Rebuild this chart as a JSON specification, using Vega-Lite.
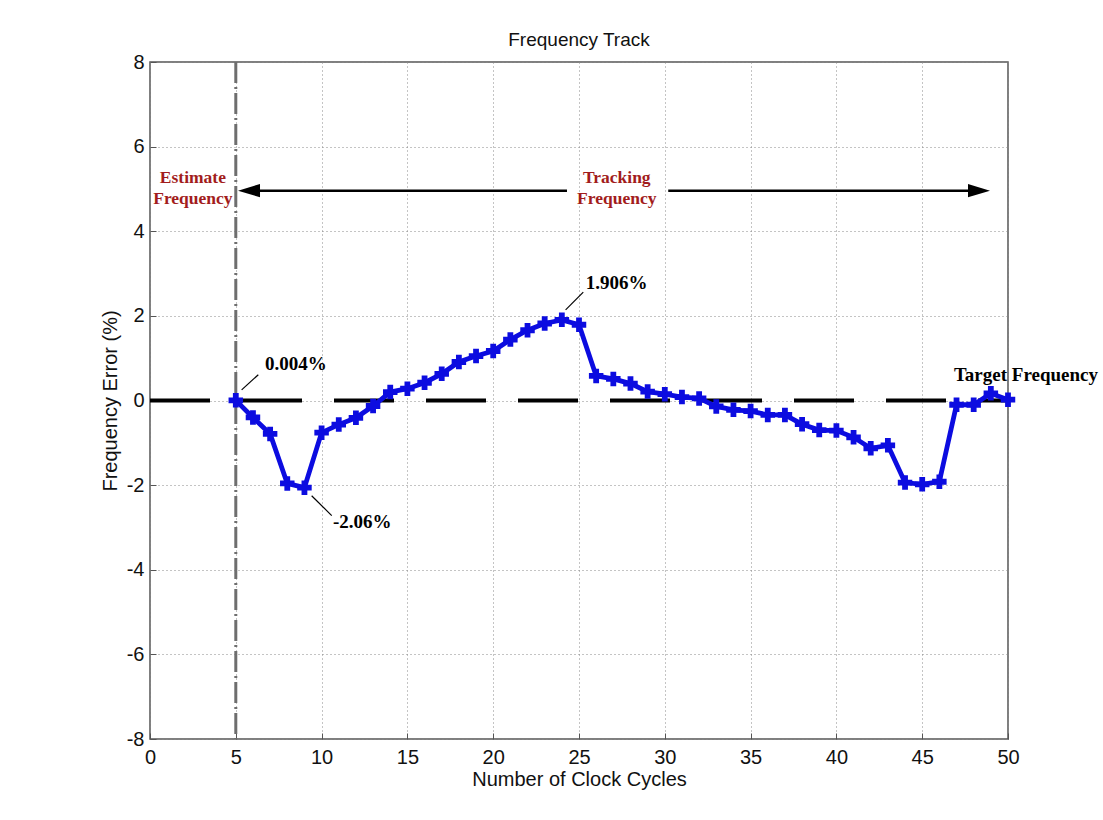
{
  "$schema": "https://vega.github.io/schema/vega-lite/v6.json",
  "width": 858,
  "height": 677,
  "autosize": {"type": "none"},
  "padding": {"left": 150, "top": 62, "right": 95, "bottom": 81},
  "background": "white",
  "title": {"text": "Frequency Track", "font": "Liberation Sans", "fontSize": 19, "fontWeight": "normal", "color": "#111", "offset": 2, "anchor": "middle"},
  "config": {
    "view": {"stroke": "#555", "strokeWidth": 1.5},
    "axis": {
      "domain": false, "grid": true, "gridColor": "#888", "gridDash": [1, 3], "gridWidth": 1,
      "ticks": true, "tickSize": -6, "tickColor": "#555", "tickWidth": 1,
      "labelFont": "Liberation Sans", "labelFontSize": 20, "labelColor": "#111", "labelFlush": false,
      "labelExpr": "datum.value + ''",
      "titleFont": "Liberation Sans", "titleFontSize": 20, "titleFontWeight": "normal", "titleColor": "#111"
    }
  },
  "datasets": {
    "track": [
      {"cycle": 5, "err": 0.004}, {"cycle": 6, "err": -0.4}, {"cycle": 7, "err": -0.79}, {"cycle": 8, "err": -1.96},
      {"cycle": 9, "err": -2.06}, {"cycle": 10, "err": -0.76}, {"cycle": 11, "err": -0.57}, {"cycle": 12, "err": -0.41},
      {"cycle": 13, "err": -0.13}, {"cycle": 14, "err": 0.2}, {"cycle": 15, "err": 0.28}, {"cycle": 16, "err": 0.42},
      {"cycle": 17, "err": 0.63}, {"cycle": 18, "err": 0.91}, {"cycle": 19, "err": 1.05}, {"cycle": 20, "err": 1.17},
      {"cycle": 21, "err": 1.44}, {"cycle": 22, "err": 1.66}, {"cycle": 23, "err": 1.82}, {"cycle": 24, "err": 1.906},
      {"cycle": 25, "err": 1.79}, {"cycle": 26, "err": 0.58}, {"cycle": 27, "err": 0.51}, {"cycle": 28, "err": 0.4},
      {"cycle": 29, "err": 0.21}, {"cycle": 30, "err": 0.15}, {"cycle": 31, "err": 0.08}, {"cycle": 32, "err": 0.05},
      {"cycle": 33, "err": -0.14}, {"cycle": 34, "err": -0.22}, {"cycle": 35, "err": -0.25}, {"cycle": 36, "err": -0.34},
      {"cycle": 37, "err": -0.34}, {"cycle": 38, "err": -0.56}, {"cycle": 39, "err": -0.7}, {"cycle": 40, "err": -0.71},
      {"cycle": 41, "err": -0.87}, {"cycle": 42, "err": -1.13}, {"cycle": 43, "err": -1.06}, {"cycle": 44, "err": -1.94},
      {"cycle": 45, "err": -1.98}, {"cycle": 46, "err": -1.92}, {"cycle": 47, "err": -0.1}, {"cycle": 48, "err": -0.1},
      {"cycle": 49, "err": 0.17}, {"cycle": 50, "err": 0.02}
    ],
    "labels": [
      {"cycle": 2.5, "err": 5.26, "label": "Estimate\nFrequency"},
      {"cycle": 27.2, "err": 5.26, "label": "Tracking\nFrequency"}
    ],
    "notes": [
      {"cycle": 6.7, "err": 0.87, "label": "0.004%"},
      {"cycle": 10.66, "err": -2.88, "label": "-2.06%"},
      {"cycle": 25.4, "err": 2.77, "label": "1.906%"}
    ],
    "target": [
      {"cycle": 46.85, "err": 0.61, "label": "Target Frequency"}
    ],
    "leaders": [
      {"cycle": 5.34, "cycle2": 6.31, "err": 0.25, "err2": 0.61},
      {"cycle": 9.42, "cycle2": 10.59, "err": -2.25, "err2": -2.72},
      {"cycle": 24.22, "cycle2": 25.25, "err": 2.14, "err2": 2.56}
    ],
    "arrowSegs": [
      {"cycle": 5.77, "cycle2": 24.3, "err": 4.96},
      {"cycle": 30.2, "cycle2": 48.31, "err": 4.96}
    ],
    "arrowLeft": [{"cycle": 5.77, "err": 4.96}],
    "arrowRight": [{"cycle": 48.31, "err": 4.96}],
    "zero": [{"cycle": 0, "cycle2": 50, "err": 0}],
    "start": [{"cycle": 5, "err": 8, "err2": -8}]
  },
  "layer": [
    {
      "data": {"name": "zero"},
      "mark": {"type": "rule", "color": "black", "strokeWidth": 4, "strokeDash": [60, 32]},
      "encoding": {
        "x": {"field": "cycle", "type": "quantitative", "scale": {"domain": [0, 50], "nice": false},
              "axis": {"values": [0, 5, 10, 15, 20, 25, 30, 35, 40, 45, 50], "title": "Number of Clock Cycles", "labelPadding": 14, "titlePadding": 2}},
        "x2": {"field": "cycle2"},
        "y": {"field": "err", "type": "quantitative", "scale": {"domain": [-8, 8], "nice": false},
              "axis": {"values": [-8, -6, -4, -2, 0, 2, 4, 6, 8], "title": "Frequency Error (%)", "labelPadding": 12, "titlePadding": 6}}
      }
    },
    {
      "data": {"name": "start"},
      "mark": {"type": "rule", "color": "#6e6e6e", "strokeWidth": 3, "strokeDash": [21, 4, 2, 4]},
      "encoding": {
        "x": {"field": "cycle", "type": "quantitative"},
        "y": {"field": "err", "type": "quantitative"},
        "y2": {"field": "err2"}
      }
    },
    {
      "data": {"name": "track"},
      "mark": {"type": "line", "color": "#0c0ce0", "strokeWidth": 4.8},
      "encoding": {
        "x": {"field": "cycle", "type": "quantitative"},
        "y": {"field": "err", "type": "quantitative"}
      }
    },
    {
      "data": {"name": "track"},
      "mark": {"type": "point", "shape": "cross", "filled": true, "color": "#0c0ce0", "size": 210, "opacity": 1},
      "encoding": {
        "x": {"field": "cycle", "type": "quantitative"},
        "y": {"field": "err", "type": "quantitative"}
      }
    },
    {
      "data": {"name": "arrowSegs"},
      "mark": {"type": "rule", "color": "black", "strokeWidth": 2.5},
      "encoding": {
        "x": {"field": "cycle", "type": "quantitative"},
        "x2": {"field": "cycle2"},
        "y": {"field": "err", "type": "quantitative"}
      }
    },
    {
      "data": {"name": "arrowLeft"},
      "mark": {"type": "point", "shape": "M1,-0.6L-1,0L1,0.6Z", "filled": true, "color": "black", "size": 484, "opacity": 1},
      "encoding": {
        "x": {"field": "cycle", "type": "quantitative"},
        "y": {"field": "err", "type": "quantitative"}
      }
    },
    {
      "data": {"name": "arrowRight"},
      "mark": {"type": "point", "shape": "M-1,-0.6L1,0L-1,0.6Z", "filled": true, "color": "black", "size": 484, "opacity": 1},
      "encoding": {
        "x": {"field": "cycle", "type": "quantitative"},
        "y": {"field": "err", "type": "quantitative"}
      }
    },
    {
      "data": {"name": "labels"},
      "mark": {"type": "text", "font": "Liberation Serif", "fontWeight": "bold", "fontSize": 17.5, "color": "#a21c1c", "lineBreak": "\n", "lineHeight": 21, "align": "center", "baseline": "middle"},
      "encoding": {
        "x": {"field": "cycle", "type": "quantitative"},
        "y": {"field": "err", "type": "quantitative"},
        "text": {"field": "label"}
      }
    },
    {
      "data": {"name": "leaders"},
      "mark": {"type": "rule", "color": "black", "strokeWidth": 1.2},
      "encoding": {
        "x": {"field": "cycle", "type": "quantitative"},
        "x2": {"field": "cycle2"},
        "y": {"field": "err", "type": "quantitative"},
        "y2": {"field": "err2"}
      }
    },
    {
      "data": {"name": "notes"},
      "mark": {"type": "text", "font": "Liberation Serif", "fontWeight": "bold", "fontSize": 19, "color": "black", "align": "left", "baseline": "middle"},
      "encoding": {
        "x": {"field": "cycle", "type": "quantitative"},
        "y": {"field": "err", "type": "quantitative"},
        "text": {"field": "label"}
      }
    },
    {
      "data": {"name": "target"},
      "mark": {"type": "text", "font": "Liberation Serif", "fontWeight": "bold", "fontSize": 19, "color": "black", "align": "left", "baseline": "middle"},
      "encoding": {
        "x": {"field": "cycle", "type": "quantitative"},
        "y": {"field": "err", "type": "quantitative"},
        "text": {"field": "label"}
      }
    }
  ]
}
